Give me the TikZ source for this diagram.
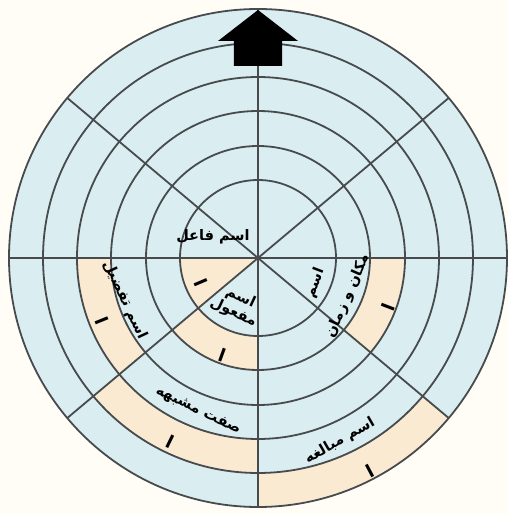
\documentclass[tikz,border=0pt]{standalone}
\usepackage{fontspec}
\newfontfamily\farsifont[Script=Arabic]{DejaVu Sans}
\TeXXeTstate=1
\definecolor{pagefill}{HTML}{FFFDF6}
\definecolor{diskfill}{HTML}{DAEDF0}
\definecolor{cellfill}{HTML}{FAEAD2}
\definecolor{gridline}{HTML}{474B4D}
\tikzset{
  ring/.style={draw=gridline, line width=1.8pt},
  spoke/.style={draw=gridline, line width=1.8pt},
  pointer/.style={fill=black},
  termlabel/.style={font=\farsifont\bfseries\fontsize{14.5}{17}\selectfont, inner sep=1pt, align=center},
  alefmark/.style={font=\farsifont\bfseries\fontsize{18}{20}\selectfont, inner sep=1pt}
}
% one cell of the board: start angle, end angle, inner radius, outer radius
\newcommand{\boardcell}[4]{%
  \fill[cellfill] (#1:#3) arc[start angle=#1, end angle=#2, radius=#3]
    -- (#2:#4) arc[start angle=#2, end angle=#1, radius=#4] -- cycle;}

\begin{document}
\begin{tikzpicture}[x=1pt, y=1pt]

\useasboundingbox (-258,-256) rectangle (250,258);
\fill[pagefill] (-258,-256) rectangle (250,258);

% board
\fill[diskfill] (0,0) circle[radius=249];
\boardcell{180}{220}{0.01}{78}
\boardcell{220}{270}{78}{112}
\boardcell{320}{360}{112}{147}
\boardcell{180}{220}{147}{181}
\boardcell{220}{270}{181}{215}
\boardcell{270}{320}{215}{249}

\foreach \r in {78,112,147,181,215,249}
  \draw[ring] (0,0) circle[radius=\r];
\foreach \a in {0,40,90,140,180,220,270,320}
  \draw[spoke] (0,0) -- (\a:249);

% arrow on top
\fill[pointer] (0,248) -- (40,217) -- (24,217) -- (24,192) -- (-24,192)
  -- (-24,217) -- (-40,217) -- cycle;

% terms
\node[termlabel] (faa) at (-45,21) {\beginR اسم فاعل\endR};
\node[termlabel, rotate=-25] (maf) at (-21,-47) {\beginR اسم\endR\\\beginR مفعول\endR};
\node[termlabel, rotate=69] (makan1) at (57,-25) {\beginR اسم\endR};
\node[termlabel, rotate=66] (makan2) at (90,-38) {\beginR مکان و زمان\endR};
\node[termlabel, rotate=-65] (taf) at (-133,-42) {\beginR اسم تفضیل\endR};
\node[termlabel, rotate=-26] (sif) at (-60,-153) {\beginR صفت مشبهه\endR};
\node[termlabel, rotate=30] (mob) at (82,-183) {\beginR اسم مبالغه\endR};

% marks
\node[alefmark, rotate=-67] (m1) at (-57,-25) {\beginR ا\endR};
\node[alefmark, rotate=-20] (m2) at (-36,-97) {\beginR ا\endR};
\node[alefmark, rotate=69] (m3) at (130,-49) {\beginR ا\endR};
\node[alefmark, rotate=-68] (m4) at (-156,-63) {\beginR ا\endR};
\node[alefmark, rotate=-26] (m5) at (-88,-184) {\beginR ا\endR};
\node[alefmark, rotate=28] (m6) at (112,-213) {\beginR ا\endR};

\end{tikzpicture}
\end{document}
